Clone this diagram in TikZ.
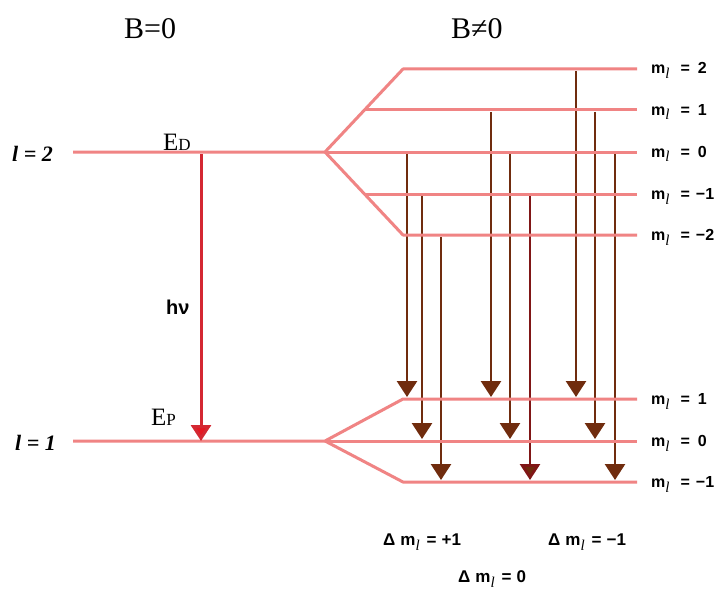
\documentclass[tikz,border=0pt]{standalone}
\usepackage{fontspec}
\setmainfont{Liberation Serif}
\setsansfont{Liberation Sans}
\usetikzlibrary{arrows.meta}
\definecolor{lvl}{RGB}{240,132,132}
\definecolor{trans}{RGB}{112,44,14}
\definecolor{transdk}{RGB}{128,22,22}
\definecolor{hvred}{RGB}{228,24,34}
\definecolor{hvline}{RGB}{212,40,50}
\tikzset{
  level/.style={draw=lvl, line width=3pt, line join=round},
  trarrow/.style={draw=trans, line width=2.8pt, -{Triangle[width=20pt,length=16pt,fill=trans]}, shorten >=2pt},
  hvarrow/.style={draw=hvline, line width=3pt, -{Triangle[width=20pt,length=16pt,fill=hvred]}},
  mlab/.style={anchor=base west, inner sep=0pt, font=\sffamily\bfseries\fontsize{16}{16}\selectfont},
  dlab/.style={anchor=base west, inner sep=0pt, font=\sffamily\bfseries\fontsize{17}{17}\selectfont},
  title/.style={anchor=base west, inner sep=0pt, font=\fontsize{30}{30}\selectfont},
  elab/.style={anchor=base west, inner sep=0pt, font=\fontsize{25}{25}\selectfont},
  llab/.style={anchor=base west, inner sep=0pt, font=\bfseries\itshape\fontsize{22}{22}\selectfont},
}
\newcommand{\mlsub}{m\raisebox{-5pt}{\rmfamily\mdseries\itshape\fontsize{15}{15}\selectfont l}}
\begin{document}
\begin{tikzpicture}[x=1pt,y=-1pt]
\fill[white] (0,0) rectangle (722,591);
\useasboundingbox (0,0) rectangle (722,591);

% titles
\node[title] (b0) at (124,39) {B=0};
\node[title] (b1) at (451,39) {B≠0};

% left levels and split points
\coordinate (uL) at (73,152);
\coordinate (uA) at (325,152);
\coordinate (u2s) at (403,69);   \coordinate (u2e) at (637,69);
\coordinate (u1s) at (364.5,110);\coordinate (u1e) at (637,110);
\coordinate (u0e) at (637,152);
\coordinate (um1s) at (364.5,194);\coordinate (um1e) at (637,194);
\coordinate (um2s) at (403,235); \coordinate (um2e) at (637,235);

\coordinate (lL) at (73,441);
\coordinate (lA) at (325,441);
\coordinate (l1s) at (403,399);  \coordinate (l1e) at (637,399);
\coordinate (l0e) at (637,441);
\coordinate (lm1s) at (403,482); \coordinate (lm1e) at (637,482);

% transitions (drawn first, levels on top)
\foreach \i/\x/\ya/\yb in {1/407/154/399, 2/422/195/441, 3/441/237/482,
                          4/491/112/399, 5/510/154/441,
                          7/576/71/399, 8/595/112/441, 9/615/154/482}{
  \coordinate (t\i s) at (\x,\ya);
  \coordinate (t\i e) at (\x,\yb);
  \draw[trarrow] (t\i s) -- (t\i e);
}
\coordinate (t6s) at (530,195);
\coordinate (t6e) at (530,482);
\draw[trarrow, draw=transdk] (t6s) -- (t6e);

% levels
\draw[level] (uL) -- (uA) -- (u2s) -- (u2e);
\draw[level] (uA) -- (um2s) -- (um2e);
\draw[level] (uA) -- (u0e);
\draw[level] (u1s) -- (u1e);
\draw[level] (um1s) -- (um1e);
\draw[level] (lL) -- (lA) -- (l1s) -- (l1e);
\draw[level] (lA) -- (lm1s) -- (lm1e);
\draw[level] (lA) -- (l0e);

% zero-field transition
\coordinate (hvs) at (201,154);
\coordinate (hve) at (201,441);
\draw[hvarrow] (hvs) -- (hve);
\node[anchor=base west, inner sep=0pt, font=\sffamily\bfseries\fontsize{20}{20}\selectfont] (hv) at (166,314) {hν};

% left labels
\node[llab] (l2) at (12,161) {l = 2};
\node[llab] (l1) at (15,450) {l = 1};
\node[elab] (ED) at (163,150) {E{\fontsize{17}{17}\selectfont D}};
\node[elab] (EP) at (151,425) {E{\fontsize{17}{17}\selectfont P}};

% m labels
\node[mlab] (mu2)  at (651,74)  {\mlsub\hspace{11pt}=\hspace{8pt}2};
\node[mlab] (mu1)  at (651,115) {\mlsub\hspace{11pt}=\hspace{8pt}1};
\node[mlab] (mu0)  at (651,157) {\mlsub\hspace{11pt}=\hspace{8pt}0};
\node[mlab] (mum1) at (651,199) {\mlsub\hspace{11pt}=\hspace{6pt}−1};
\node[mlab] (mum2) at (651,240) {\mlsub\hspace{11pt}=\hspace{6pt}−2};
\node[mlab] (ml1)  at (651,404) {\mlsub\hspace{11pt}=\hspace{8pt}1};
\node[mlab] (ml0)  at (651,446) {\mlsub\hspace{11pt}=\hspace{8pt}0};
\node[mlab] (mlm1) at (651,487) {\mlsub\hspace{11pt}=\hspace{6pt}−1};

% selection rules
\node[dlab] (d1) at (383,545) {Δ\hspace{5pt}\mlsub\hspace{7pt}=\hspace{5pt}+1};
\node[dlab] (d2) at (548,545) {Δ\hspace{5pt}\mlsub\hspace{7pt}=\hspace{5pt}−1};
\node[dlab] (d0) at (458,582) {Δ\hspace{5pt}\mlsub\hspace{7pt}=\hspace{5pt}0};
\end{tikzpicture}
\end{document}
